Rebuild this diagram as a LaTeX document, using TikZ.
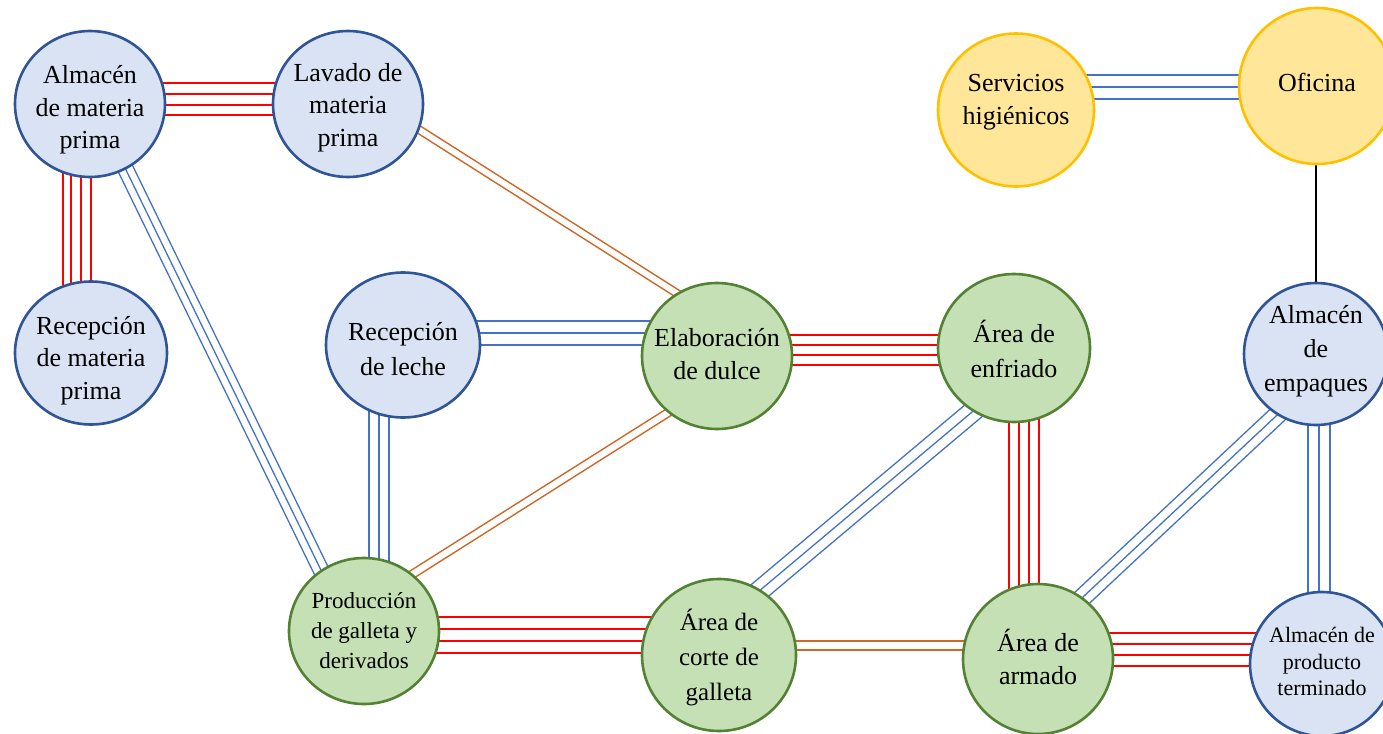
\documentclass[tikz,border=0pt]{standalone}
\usepackage{fontspec}
\setmainfont{Liberation Serif}
\usetikzlibrary{shapes.geometric,calc}
\definecolor{bfill}{HTML}{DAE3F3}
\definecolor{bdraw}{HTML}{2F5597}
\definecolor{gfill}{HTML}{C5E0B4}
\definecolor{gdraw}{HTML}{548235}
\definecolor{yfill}{HTML}{FFE699}
\definecolor{ydraw}{HTML}{FFC000}
\definecolor{lred}{HTML}{FF0000}
\definecolor{lblue}{HTML}{4472C4}
\definecolor{lorange}{RGB}{206,104,40}
\tikzset{
  area/.style={ellipse, line width=2.6pt, inner sep=0pt},
  bnode/.style={area, draw=bdraw, fill=bfill},
  gnode/.style={area, draw=gdraw, fill=gfill},
  ynode/.style={area, draw=ydraw, fill=yfill},
  txt/.style={align=center, inner sep=0pt, text=black, font=\fontsize{26}{32.5}\selectfont},
  redl/.style={draw=lred, line width=1.5pt},
  bluel/.style={draw=lblue, line width=1.3pt},
  orl/.style={draw=lorange, line width=1.4pt},
  blackl/.style={draw=black, line width=1.4pt},
}
% diagonal bundle: parallel lines, offsets perpendicular to the centre line
\newcommand\bundle[6]{%
  \coordinate (bA) at ($(#2)+(#3)$);
  \coordinate (bB) at ($(#4)+(#5)$);
  \foreach \off in {#6}{\draw[#1] ($(bA)!\off pt!90:(bB)$) -- ($(bB)!\off pt!-90:(bA)$);}%
}
% horizontal bundle: #3,#5 vertical shift of the centre line at each node
\newcommand\hbundle[6]{%
  \foreach \off in {#6}{\draw[#1] ($(#2)+(0,#3+\off)$) -- ($(#4)+(0,#5+\off)$);}%
}
% vertical bundle: #3,#5 horizontal shift of the centre line at each node
\newcommand\vbundle[6]{%
  \foreach \off in {#6}{\draw[#1] ($(#2)+(#3+\off,0)$) -- ($(#4)+(#5+\off,0)$);}%
}
\begin{document}
\begin{tikzpicture}[x=1pt,y=-1pt]
\useasboundingbox (0,0) rectangle (1383,733);

% centres of the areas (the nodes below take these names)
\coordinate (A1) at (90,104);
\coordinate (L)  at (348,104);
\coordinate (R1) at (91,353);
\coordinate (S)  at (1016,110);
\coordinate (O)  at (1317,86);
\coordinate (RL) at (403,345);
\coordinate (E)  at (717,356);
\coordinate (EN) at (1014,348);
\coordinate (AE) at (1316,354);
\coordinate (P)  at (364,631);
\coordinate (C)  at (719,655);
\coordinate (AR) at (1038,659);
\coordinate (PT) at (1322,664);

% connectors (drawn first, the filled areas cover their inner ends)
\hbundle{redl}{A1}{0}{L}{0}{-21,-10,1,11}
\vbundle{redl}{A1}{0}{R1}{-1}{-27,-19,-9,1}
\bundle{bluel}{A1}{18.5,30}{P}{-26.5,-27}{7.8,0,-7.8}
\bundle{orl}{L}{48,11}{E}{-17.6,-48.4}{3.75,-3.75}
\hbundle{bluel}{RL}{-12}{E}{-23}{-12,0,12}
\hbundle{redl}{E}{-6}{EN}{2}{-15,-5,5,15}
\vbundle{bluel}{RL}{-24}{P}{15}{-10,0,10}
\bundle{orl}{E}{-22.6,40}{P}{29,-44.5}{4,-4}
\hbundle{redl}{P}{0}{C}{-24}{-14,-2,10,22}
\hbundle{orl}{C}{0}{AR}{-4}{-14,-5}
\bundle{bluel}{EN}{-19,44.7}{C}{16,-43.7}{10,0,-10}
\vbundle{redl}{EN}{10}{AR}{-14}{-15,-5,5,15}
\draw[blackl] ($(O)+(-1,0)$) -- (AE);
\hbundle{bluel}{S}{-23}{O}{1}{-12,0,12}
\bundle{bluel}{AE}{-19.1,42.5}{AR}{23.1,-41.5}{9,0,-9}
\vbundle{bluel}{AE}{3}{PT}{-3}{-11,0,11}
\hbundle{redl}{AR}{-9.5}{PT}{-14.5}{-16.5,-5.5,5.5,16.5}

% areas
\node[bnode, minimum width=150pt, minimum height=146pt,
  label={[txt,yshift=-6pt]center:{Almacén\\de materia\\prima}}] (A1) at (A1) {};
\node[bnode, minimum width=150pt, minimum height=146pt,
  label={[txt,yshift=-3.5pt]center:{Lavado de\\materia\\prima}}] (L) at (L) {};
\node[bnode, minimum width=152pt, minimum height=143pt,
  label={[txt,yshift=-7.5pt]center:{Recepción\\de materia\\prima}}] (R1) at (R1) {};
\node[ynode, minimum width=156pt, minimum height=153pt,
  label={[txt,yshift=8pt,font=\fontsize{26}{33}\selectfont]center:{Servicios\\higiénicos}}] (S) at (S) {};
\node[ynode, minimum width=156pt, minimum height=156pt,
  label={[txt,yshift=4pt]center:{Oficina}}] (O) at (O) {};
\node[bnode, minimum width=154pt, minimum height=145pt,
  label={[txt,yshift=-4.5pt,font=\fontsize{26}{35}\selectfont]center:{Recepción\\de leche}}] (RL) at (RL) {};
\node[gnode, minimum width=150pt, minimum height=146pt,
  label={[txt,yshift=1.5pt,font=\fontsize{26}{33}\selectfont]center:{Elaboración\\de dulce}}] (E) at (E) {};
\node[gnode, minimum width=152pt, minimum height=148pt,
  label={[txt,yshift=-1pt,font=\fontsize{26}{35}\selectfont]center:{Área de\\enfriado}}] (EN) at (EN) {};
\node[bnode, minimum width=144pt, minimum height=142pt,
  label={[txt,yshift=3pt,font=\fontsize{26}{34}\selectfont]center:{Almacén\\de\\empaques}}] (AE) at (AE) {};
\node[gnode, minimum width=150pt, minimum height=146pt,
  label={[txt,yshift=0pt,font=\fontsize{23}{30}\selectfont]center:{Producción\\de galleta y\\derivados}}] (P) at (P) {};
\node[gnode, minimum width=154pt, minimum height=152pt,
  label={[txt,yshift=-2pt,font=\fontsize{25}{35}\selectfont]center:{Área de\\corte de\\galleta}}] (C) at (C) {};
\node[gnode, minimum width=150pt, minimum height=150pt,
  label={[txt,yshift=2pt,font=\fontsize{26}{33}\selectfont]center:{Área de\\armado}}] (AR) at (AR) {};
\node[bnode, minimum width=144pt, minimum height=144pt,
  label={[txt,yshift=2.5pt,font=\fontsize{22}{26.5}\selectfont]center:{Almacén de\\producto\\terminado}}] (PT) at (PT) {};
\end{tikzpicture}
\end{document}
